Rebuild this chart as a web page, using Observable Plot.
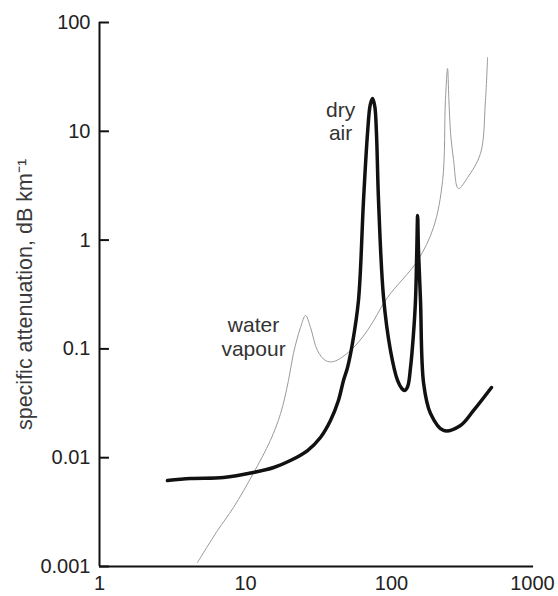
<!DOCTYPE html>
<html>
<head>
<meta charset="utf-8">
<script src="https://cdn.jsdelivr.net/npm/d3@7"></script>
<script src="https://cdn.jsdelivr.net/npm/@observablehq/plot@0.6"></script>
<style>
  html, body { margin: 0; padding: 0; background: #fff; }
</style>
</head>
<body>
<div id="chart"></div>
<script>
// Tick values and labels
const xTicks = [1, 10, 100];
const xTickLabels = ["1", "10", "100"];
const xLastTick = [1000];
const xLastTickLabel = ["1000"];
const yTicks = [0.001, 0.01, 0.1, 1, 10, 100];
const yTickLabels = ["0.001", "0.01", "0.1", "1", "10", "100"];
const yTitle = "specific attenuation, dB km⁻¹";

// Dry air (oxygen) specific attenuation, dB/km, vs frequency GHz
const dryFreq = [2.92, 4.2, 7.07, 11.3, 15.6, 20.3, 26.6, 32.6, 38.2, 43.3, 46.9, 50, 54, 59.4, 64.3, 68.5, 71.5, 74.1, 76.8, 78.9, 81.5, 88.2, 98.4, 110, 118, 123, 129, 135, 141, 146, 149, 151, 153, 158, 166, 185, 227, 297, 365, 484];
const dryAtt  = [0.00617, 0.00644, 0.00658, 0.00731, 0.00813, 0.00942, 0.01164, 0.01535, 0.0220, 0.0336, 0.0513, 0.0675, 0.112, 0.279, 2.31, 9.55, 17.5, 20.0, 17.0, 9.55, 2.31, 0.297, 0.0967, 0.0513, 0.0430, 0.0415, 0.0450, 0.0675, 0.13, 0.279, 0.8, 1.68, 0.8, 0.279, 0.0481, 0.0255, 0.0178, 0.0198, 0.0272, 0.0442];

// Water vapour specific attenuation
const waterFreq = [4.69, 6.43, 8.27, 11.3, 14.8, 17.4, 19.7, 21.3, 23.8, 25.8, 27.9, 31.1, 35.3, 40.1, 52.4, 68.5, 93.9, 151, 194, 224, 234, 242, 247, 254, 266, 287, 332, 407, 440, 455];
const waterAtt  = [0.00109, 0.00214, 0.00348, 0.00716, 0.0144, 0.0255, 0.0513, 0.0907, 0.157, 0.203, 0.157, 0.0967, 0.0782, 0.0765, 0.0967, 0.148, 0.297, 0.649, 1.31, 3.53, 19.2, 37.8, 20, 9.55, 5.5, 2.98, 3.76, 6.25, 19.2, 47.7];

// Curve labels
const labelText = ["dry", "air", "water", "vapour"];
const labelFreq = [44.8, 44.8, 11.35, 11.35];
const labelAtt  = [15.5, 9.55, 0.164, 0.0987];

const dry = dryFreq.map((f, i) => ({f, a: dryAtt[i]}));
const water = waterFreq.map((f, i) => ({f, a: waterAtt[i]}));
const labels = labelText.map((t, i) => ({t, f: labelFreq[i], a: labelAtt[i]}));

const chart = Plot.plot({
  width: 558,
  height: 596,
  marginLeft: 99,
  marginRight: 21,
  marginTop: 22,
  marginBottom: 30,
  style: {fontFamily: "'Liberation Sans', Arial, sans-serif", fontSize: "20px", color: "#222", background: "#fff"},
  x: {type: "log", domain: [1, 1000]},
  y: {type: "log", domain: [0.001, 100]},
  marks: [
    Plot.axisX({ticks: xTicks, tickSize: 0, tickPadding: 9, tickFormat: d => xTickLabels[xTicks.indexOf(d)], label: null, fontSize: 20, fill: "#222"}),
    Plot.axisX({ticks: xLastTick, tickSize: 0, tickPadding: 9, tickFormat: d => xLastTickLabel[xLastTick.indexOf(d)], label: null, fontSize: 20, fill: "#222", dx: -5}),
    Plot.axisY({ticks: yTicks, tickSize: 0, tickPadding: 9, tickFormat: d => yTickLabels[yTicks.indexOf(d)], label: null, fontSize: 20, fill: "#222"}),
    Plot.axisY({ticks: [], tickSize: 0, label: yTitle, labelAnchor: "center", labelArrow: "none", labelOffset: 83, fontSize: 21.5, fill: "#3a3a3a"}),
    Plot.ruleY(yTicks, {x1: 1, x2: 1.17, stroke: "#111", strokeWidth: 2}),
    Plot.ruleX([1], {y1: 0.001, y2: 100, stroke: "#111", strokeWidth: 2}),
    Plot.ruleY([0.001], {x1: 1, x2: 940, stroke: "#111", strokeWidth: 2}),
    Plot.line(water, {x: "f", y: "a", stroke: "#9a9a9a", strokeWidth: 1, curve: "catmull-rom"}),
    Plot.line(dry, {x: "f", y: "a", stroke: "#111", strokeWidth: 3.5, curve: "catmull-rom"}),
    Plot.text(labels, {x: "f", y: "a", text: "t", fontSize: 21, fill: "#333", textAnchor: "middle"})
  ]
});
document.getElementById("chart").appendChild(chart);
</script>
</body>
</html>
